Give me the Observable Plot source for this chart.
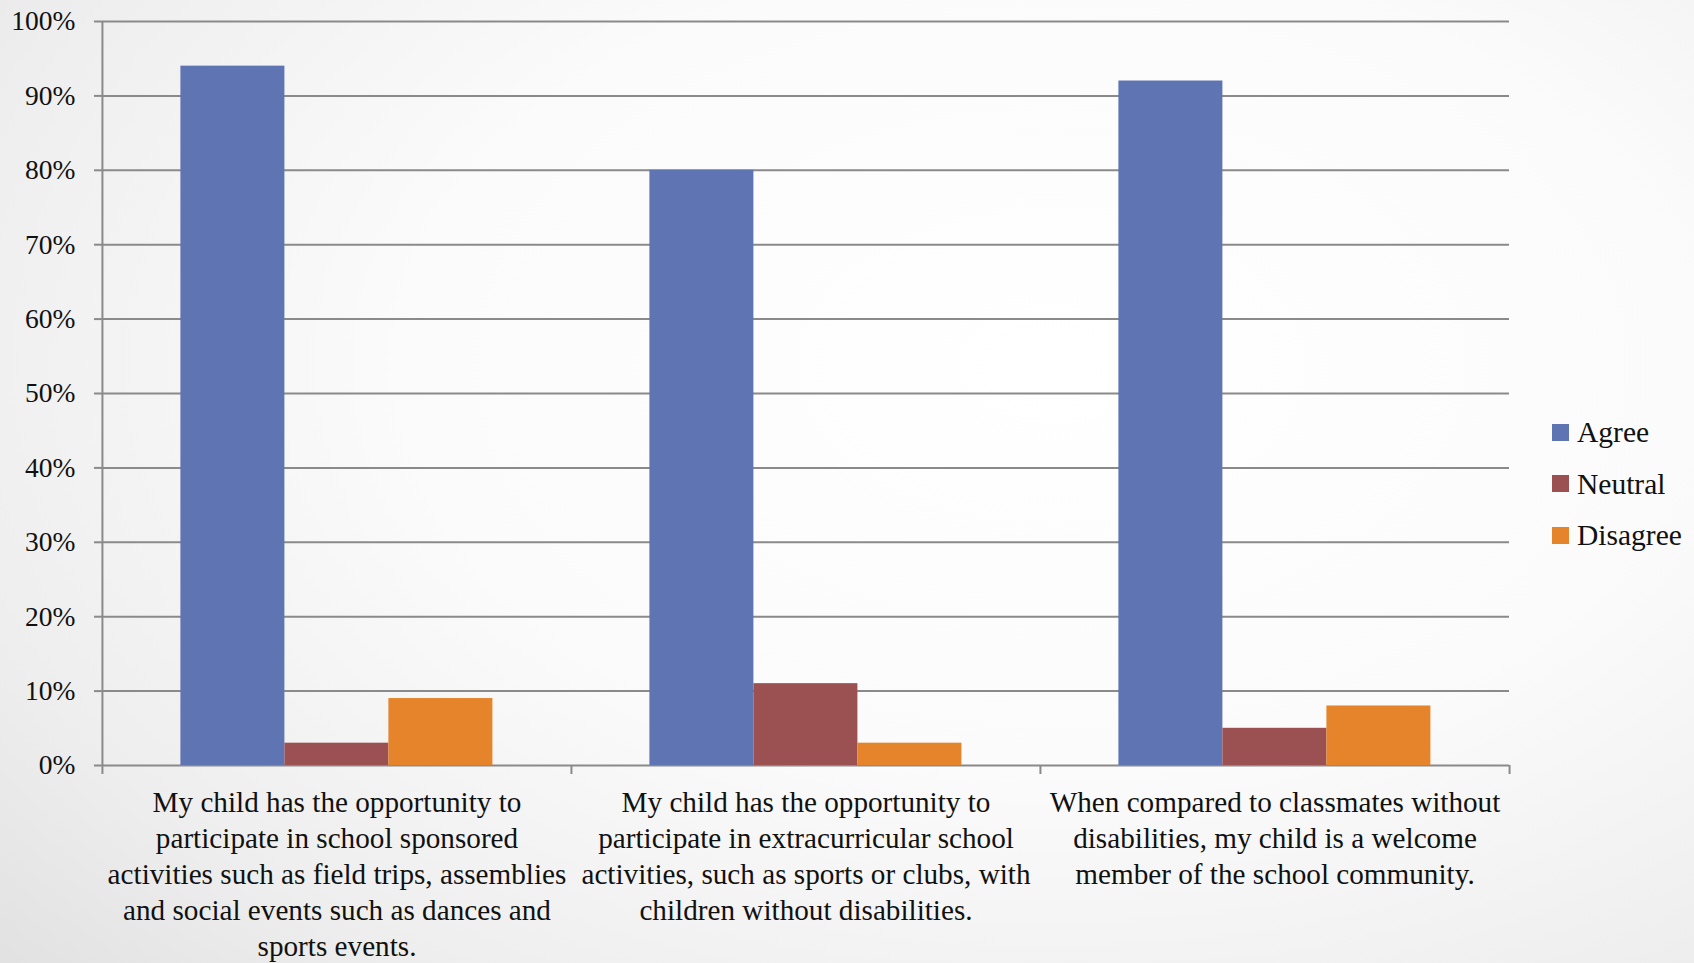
<!DOCTYPE html>
<html>
<head>
<meta charset="utf-8">
<script src="https://cdn.jsdelivr.net/npm/d3@7"></script>
<script src="https://cdn.jsdelivr.net/npm/@observablehq/plot@0.6"></script>
<style>
  html, body { margin: 0; padding: 0; }
  #page {
    position: relative;
    width: 1694px;
    height: 963px;
    overflow: hidden;
    background: radial-gradient(ellipse 95% 105% at 62% 38%, #ffffff 0%, #fbfbfb 40%, #eeeeee 70%, #d9d9d9 100%);
  }
  #chart { position: absolute; left: 0; top: 0; }
  #legend { position: absolute; left: 1552px; top: 416px; }
  .lg-swatch { padding-bottom: 19.5px !important; line-height: 32px; }
  .lg-swatch svg { margin-right: 8px !important; }
</style>
</head>
<body>
<div id="page">
  <div id="chart"></div>
  <div id="legend"></div>
</div>
<script>
// Survey questions (categories) and their wrapped axis labels
const questions = [
  "My child has the opportunity to participate in school sponsored activities such as field trips, assemblies and social events such as dances and sports events.",
  "My child has the opportunity to participate in extracurricular school activities, such as sports or clubs, with children without disabilities.",
  "When compared to classmates without disabilities, my child is a welcome member of the school community."
];
const questionLabels = [
  "My child has the opportunity to\nparticipate in school sponsored\nactivities such as field trips, assemblies\nand social events such as dances and\nsports events.",
  "My child has the opportunity to\nparticipate in extracurricular school\nactivities, such as sports or clubs, with\nchildren without disabilities.",
  "When compared to classmates without\ndisabilities, my child is a welcome\nmember of the school community."
];

// Response series
const responses = ["Agree", "Neutral", "Disagree"];
const agree = [0.94, 0.80, 0.92];
const neutral = [0.03, 0.11, 0.05];
const disagree = [0.09, 0.03, 0.08];

// Y axis ticks
const yTicks = [0, 0.1, 0.2, 0.3, 0.4, 0.5, 0.6, 0.7, 0.8, 0.9, 1.0];

const colors = ["#5f75b3", "#9b5052", "#e5842a"];
const gridColor = "#8a8a8a";

const series = [agree, neutral, disagree];
const rows = questions.flatMap((q, i) =>
  responses.map((r, j) => ({question: q, response: r, value: series[j][i]}))
);

const width = 1694, height = 963;
const marginLeft = 101.6, marginRight = 185, marginTop = 21, marginBottom = 198;
const halfBand = (width - marginLeft - marginRight) / questions.length / 2;

const chart = Plot.plot({
  width, height,
  marginLeft, marginRight, marginTop, marginBottom,
  style: {
    background: "transparent",
    fontFamily: "'Liberation Serif', serif",
    fontSize: "27px",
    color: "#111",
    overflow: "visible"
  },
  fx: {domain: questions, paddingInner: 0, paddingOuter: 0, label: null},
  x: {domain: responses, paddingInner: 0, paddingOuter: 0.75, axis: null},
  y: {domain: [0, 1], label: null},
  color: {domain: responses, range: colors},
  marks: [
    // horizontal gridlines, including the baseline
    Plot.gridY({ticks: yTicks, stroke: gridColor, strokeOpacity: 1, strokeWidth: 2}),
    // vertical value axis line
    Plot.gridFx({ticks: [questions[0]], dx: -halfBand, stroke: gridColor, strokeOpacity: 1, strokeWidth: 2}),
    // bars
    Plot.barY(rows, {fx: "question", x: "response", y: "value", fill: "response", inset: 0}),
    // y axis ticks and percentage labels
    Plot.axisY({
      ticks: yTicks,
      tickFormat: d3.format(".0%"),
      tickSize: 8,
      tickPadding: 19,
      stroke: gridColor,
      strokeWidth: 2,
      fontSize: 27.5,
      label: null
    }),
    // category boundary ticks
    Plot.axisFx({
      anchor: "bottom",
      tickSize: 9,
      dx: -halfBand,
      tickFormat: () => "",
      stroke: gridColor,
      strokeWidth: 2,
      label: null
    }),
    Plot.axisFx({
      anchor: "bottom",
      ticks: [questions[questions.length - 1]],
      tickSize: 9,
      dx: halfBand,
      tickFormat: () => "",
      stroke: gridColor,
      strokeWidth: 2,
      label: null
    }),
    // category labels
    Plot.axisFx({
      anchor: "bottom",
      tickSize: 0,
      tickPadding: 21,
      tickFormat: (d) => questionLabels[questions.indexOf(d)],
      lineHeight: 1.233,
      fontSize: 29.2,
      label: null
    })
  ]
});

document.getElementById("chart").append(chart);

const legend = chart.legend("color", {
  legend: "swatches",
  columns: 1,
  swatchSize: 17,
  className: "lg",
  style: {fontFamily: "'Liberation Serif', serif", fontSize: "29.5px", color: "#111", margin: "0", background: "transparent"}
});
document.getElementById("legend").append(legend);
</script>
</body>
</html>
